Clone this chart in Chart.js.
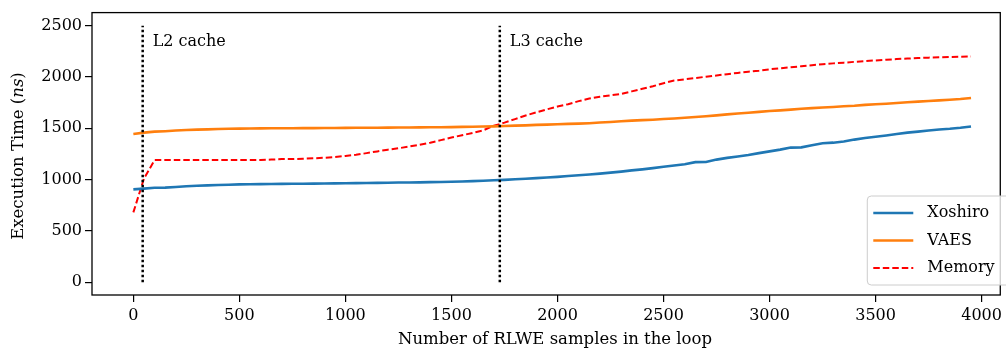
<!DOCTYPE html>
<html>
<head>
<meta charset="utf-8">
<script src="https://cdn.jsdelivr.net/npm/chart.js@4/dist/chart.umd.min.js"></script>
<style>
  html, body { margin: 0; padding: 0; background: #fff; }
  #chart { display: block; }
</style>
</head>
<body>
<canvas id="chart" width="1006" height="349"></canvas>
<script>
// samples per loop (x) and execution time in ns for each generator
var samples = [0, 50, 100, 150, 200, 250, 300, 350, 400, 450,
    500, 550, 600, 650, 700, 750, 800, 850, 900, 950,
    1000, 1050, 1100, 1150, 1200, 1250, 1300, 1350, 1400, 1450,
    1500, 1550, 1600, 1650, 1700, 1750, 1800, 1850, 1900, 1950,
    2000, 2050, 2100, 2150, 2200, 2250, 2300, 2350, 2400, 2450,
    2500, 2550, 2600, 2650, 2700, 2750, 2800, 2850, 2900, 2950,
    3000, 3050, 3100, 3150, 3200, 3250, 3300, 3350, 3400, 3450,
    3500, 3550, 3600, 3650, 3700, 3750, 3800, 3850, 3900, 3950];

var xoshiro = [905, 912, 920, 922, 928, 935, 940, 944, 947, 950,
    953, 955, 956, 957, 958, 959, 960, 961, 962, 963,
    964, 966, 967, 968, 970, 971, 972, 973, 975, 977,
    979, 982, 985, 989, 993, 997, 1003, 1008, 1014, 1020,
    1027, 1035, 1042, 1050, 1058, 1068, 1078, 1090, 1100, 1112,
    1125, 1138, 1150, 1170, 1172, 1195, 1212, 1225, 1240, 1258,
    1275, 1292, 1312, 1314, 1335, 1355, 1360, 1372, 1390, 1405,
    1418, 1430, 1444, 1458, 1468, 1478, 1488, 1495, 1505, 1518];

var vaes = [1445, 1458, 1468, 1472, 1478, 1483, 1487, 1490, 1493, 1495,
    1497, 1498, 1499, 1500, 1501, 1501, 1502, 1502, 1503, 1503,
    1504, 1505, 1506, 1506, 1507, 1508, 1508, 1509, 1510, 1511,
    1512, 1514, 1515, 1517, 1519, 1522, 1526, 1529, 1533, 1536,
    1540, 1543, 1546, 1550, 1556, 1562, 1569, 1575, 1580, 1584,
    1590, 1596, 1603, 1610, 1618, 1626, 1636, 1645, 1652, 1660,
    1668, 1675, 1682, 1690, 1697, 1703, 1708, 1715, 1720, 1728,
    1734, 1740, 1747, 1754, 1760, 1766, 1772, 1778, 1785, 1795];

var memory = [680, 1010, 1190, 1190, 1190, 1190, 1190, 1190, 1190, 1190,
    1190, 1190, 1190, 1195, 1200, 1200, 1203, 1208, 1213, 1220,
    1230, 1242, 1258, 1275, 1292, 1305, 1322, 1340, 1360, 1385,
    1410, 1432, 1455, 1480, 1525, 1555, 1590, 1625, 1655, 1685,
    1712, 1735, 1765, 1790, 1808, 1822, 1835, 1860, 1885, 1910,
    1940, 1965, 1978, 1990, 2003, 2015, 2028, 2040, 2052, 2062,
    2075, 2085, 2095, 2105, 2115, 2125, 2133, 2140, 2148, 2155,
    2162, 2168, 2175, 2180, 2185, 2189, 2192, 2195, 2197, 2200];

var seriesNames = ['Xoshiro', 'VAES', 'Memory'];

// cache size markers
var cacheSamples = [44, 1728];
var cacheNames = ['L2 cache', 'L3 cache'];
var cacheSpan = [0, 2500];

var xTicks = [0, 500, 1000, 1500, 2000, 2500, 3000, 3500, 4000];
var yTicks = [0, 500, 1000, 1500, 2000, 2500];

var FONT = '"DejaVu Serif", serif';
Chart.defaults.font.family = FONT;
Chart.defaults.font.size = 16;
Chart.defaults.color = '#000';

function toPoints(values) {
    return values.map(function (v, i) { return { x: samples[i], y: v }; });
}

function cacheLine(s) {
    return {
        data: [{ x: s, y: cacheSpan[0] }, { x: s, y: cacheSpan[1] }],
        borderColor: '#000',
        borderWidth: 2.5,
        borderDash: [2.5, 2.5],
        borderCapStyle: 'butt',
        pointRadius: 0,
        order: 0
    };
}

var styles = [
    { color: '#1f77b4', width: 2.6, dash: [] },
    { color: '#ff7f0e', width: 2.6, dash: [] },
    { color: '#ff0000', width: 2, dash: [6.5, 3] }
];

var seriesData = [xoshiro, vaes, memory];
var datasets = seriesData.map(function (vals, i) {
    return {
        label: seriesNames[i],
        data: toPoints(vals),
        borderColor: styles[i].color,
        borderWidth: styles[i].width,
        borderDash: styles[i].dash,
        pointRadius: 0,
        tension: 0,
        order: 1
    };
});
cacheSamples.forEach(function (s) { datasets.push(cacheLine(s)); });

function plainLabel(v) { return String(v); }

// frame, cache labels, axis titles and legend
var decorations = {
    id: 'decorations',
    afterDraw: function (chart) {
        var ctx = chart.ctx;
        var area = chart.chartArea;
        var xs = chart.scales.x, ys = chart.scales.y;
        ctx.save();

        ctx.strokeStyle = '#000';
        ctx.lineWidth = 1.3;
        ctx.strokeRect(area.left, area.top, area.right - area.left, area.bottom - area.top);

        ctx.fillStyle = '#000';
        ctx.font = '16px ' + FONT;
        ctx.textBaseline = 'middle';
        ctx.textAlign = 'left';
        cacheSamples.forEach(function (s, i) {
            ctx.fillText(cacheNames[i], xs.getPixelForValue(s) + 10, ys.getPixelForValue(cacheSpan[1]) + 16);
        });

        // x title
        ctx.textAlign = 'center';
        ctx.font = '16.5px ' + FONT;
        ctx.fillText('Number of RLWE samples in the loop', 555, 340);

        // y title with italic unit
        ctx.save();
        ctx.translate(19, 156);
        ctx.rotate(-Math.PI / 2);
        var parts = [['Execution Time (', ''], ['ns', 'italic '], [')', '']];
        var total = 0;
        parts.forEach(function (p) { ctx.font = p[1] + '16.5px ' + FONT; total += ctx.measureText(p[0]).width; });
        var px = -total / 2;
        ctx.textAlign = 'left';
        parts.forEach(function (p) {
            ctx.font = p[1] + '16.5px ' + FONT;
            ctx.fillText(p[0], px, 0);
            px += ctx.measureText(p[0]).width;
        });
        ctx.restore();

        // legend
        var lx = area.right - 133, ly = area.bottom - 99;
        ctx.beginPath();
        ctx.roundRect(lx, ly, 145, 89, 4);
        ctx.fillStyle = 'rgba(255,255,255,0.8)';
        ctx.fill();
        ctx.strokeStyle = '#cccccc';
        ctx.lineWidth = 1;
        ctx.stroke();
        ctx.font = '16px ' + FONT;
        ctx.textAlign = 'left';
        seriesNames.forEach(function (name, i) {
            var rowY = ly + 17 + i * 27.5;
            ctx.beginPath();
            ctx.strokeStyle = styles[i].color;
            ctx.lineWidth = styles[i].width;
            ctx.setLineDash(styles[i].dash);
            ctx.moveTo(lx + 6, rowY);
            ctx.lineTo(lx + 46, rowY);
            ctx.stroke();
            ctx.setLineDash([]);
            ctx.fillStyle = '#000';
            ctx.fillText(name, lx + 60, rowY);
        });
        ctx.restore();
    }
};

new Chart(document.getElementById('chart'), {
    type: 'line',
    data: { datasets: datasets },
    options: {
        responsive: false,
        animation: false,
        devicePixelRatio: 1,
        layout: { autoPadding: false, padding: { top: 9, right: 1, left: 0, bottom: 0 } },
        plugins: { legend: { display: false }, tooltip: { enabled: false } },
        scales: {
            x: {
                type: 'linear',
                min: -195,
                max: 4088,
                afterBuildTicks: function (scale) {
                    scale.ticks = xTicks.map(function (v) { return { value: v }; });
                },
                afterFit: function (scale) { scale.height = 54; },
                grid: { drawOnChartArea: false, drawTicks: true, tickLength: 7, color: '#000', lineWidth: 1.2 },
                border: { display: false },
                ticks: { padding: 4, maxRotation: 0, color: '#000', callback: plainLabel }
            },
            y: {
                min: -125,
                max: 2628,
                afterBuildTicks: function (scale) {
                    scale.ticks = yTicks.map(function (v) { return { value: v }; });
                },
                afterFit: function (scale) { scale.width = 92; },
                grid: { drawOnChartArea: false, drawTicks: true, tickLength: 7, color: '#000', lineWidth: 1.2 },
                border: { display: false },
                ticks: { padding: 3, color: '#000', callback: plainLabel }
            }
        }
    },
    plugins: [decorations]
});
</script>
</body>
</html>
